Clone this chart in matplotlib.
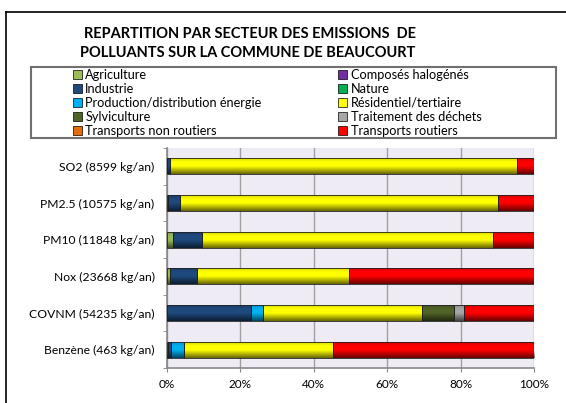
import numpy as np
import matplotlib.pyplot as plt
from matplotlib.lines import Line2D
from matplotlib.patches import Patch, Rectangle

plt.rcParams['font.family'] = ['Lato', 'DejaVu Sans']

# categories, top to bottom
categories = ['SO2 (8599 kg/an)', 'PM2.5 (10575 kg/an)', 'PM10 (11848 kg/an)',
              'Nox (23668 kg/an)', 'COVNM (54235 kg/an)', 'Benzène (463 kg/an)']

sectors = ['Agriculture', 'Composés halogénés', 'Industrie', 'Nature',
           'Production/distribution énergie', 'Résidentiel/tertiaire',
           'Sylviculture', 'Traitement des déchets', 'Transports non routiers',
           'Transports routiers']

# share of emissions (%) per sector, in category order
agriculture = [0.0, 0.3, 1.6, 0.8, 0.0, 0.3]
halogenes = [0.0, 0.0, 0.0, 0.0, 0.0, 0.0]
industrie = [0.9, 3.2, 7.9, 7.3, 23.0, 0.7]
nature = [0.0, 0.0, 0.0, 0.0, 0.0, 0.0]
production = [0.0, 0.0, 0.0, 0.0, 3.1, 3.6]
residentiel = [94.6, 86.8, 79.4, 41.6, 43.5, 40.6]
sylviculture = [0.0, 0.0, 0.0, 0.0, 8.5, 0.0]
traitement = [0.0, 0.0, 0.0, 0.0, 2.9, 0.0]
transports_nr = [0.0, 0.0, 0.0, 0.0, 0.0, 0.0]
transports_r = [4.5, 9.7, 11.1, 50.3, 19.0, 54.8]

series = [agriculture, halogenes, industrie, nature, production, residentiel,
          sylviculture, traitement, transports_nr, transports_r]
colors = ['#9BBB59', '#7030A0', '#1F497D', '#00B050', '#00B0F0', '#FFFF00',
          '#4F6228', '#A6A6A6', '#E46C0A', '#FF0000']

W, H = 566, 403
fig = plt.figure(figsize=(W / 100, H / 100), dpi=100)

# outer chart frame (cropped on right and bottom)
fig.add_artist(Line2D([6 / W, 6 / W], [0, 1 - 12 / H], color='black', lw=1.2))
fig.add_artist(Line2D([6 / W, 1], [1 - 12 / H, 1 - 12 / H], color='black', lw=1.2))

fig.text(250 / W, 1 - 34 / H, 'REPARTITION PAR SECTEUR DES EMISSIONS  DE',
         ha='center', va='center', fontsize=10.5, fontweight='bold')
fig.text(248 / W, 1 - 53 / H, 'POLLUANTS SUR LA COMMUNE DE BEAUCOURT',
         ha='center', va='center', fontsize=10.5, fontweight='bold')

ax = fig.add_axes([167 / W, 1 - 368 / H, (534 - 167) / W, (368 - 148) / H])
ax.set_facecolor('#EFEBF5')

# shading profile to give the bars their bevelled look
shade = np.zeros((40, 1, 4))
t = np.linspace(0, 1, 40)
shade[:, 0, 3] = np.clip(0.15 - 0.6 * t, 0, None) + np.clip((t - 0.5) * 1.2, 0, None)

y = np.arange(len(categories))
bh = 0.43
left = np.zeros(len(categories))
for vals, col in zip(series, colors):
    vals = np.array(vals)
    bars = ax.barh(y, vals, left=left, height=bh, color=col, edgecolor='none',
                   zorder=3)
    for b in bars:
        if b.get_width() <= 0:
            continue
        x0, y0 = b.get_x(), b.get_y()
        im = ax.imshow(shade, extent=(x0, x0 + b.get_width(), y0 + bh, y0),
                       aspect='auto', zorder=4, interpolation='bilinear')
        im.set_clip_path(b)
        ax.add_patch(Rectangle((x0, y0), b.get_width(), bh, fill=False,
                               edgecolor='#202020', linewidth=0.6, zorder=5))
    left += vals

ax.set_xlim(0, 100)
ax.set_ylim(len(categories) - 0.5, -0.5)
ax.set_xticks(np.arange(0, 101, 20))
ax.set_xticklabels([f'{v}%' for v in range(0, 101, 20)], fontsize=8.5)
ax.set_yticks(y)
ax.set_yticklabels(categories, fontsize=8.7)
ax.set_yticks(np.arange(-0.5, len(categories), 1), minor=True)
ax.tick_params(axis='y', which='major', length=0, pad=9)
ax.tick_params(axis='y', which='minor', length=3, color='#888888')
ax.tick_params(axis='x', length=3, color='#888888', pad=5)
ax.grid(axis='x', color='#A0A0A0', lw=1, zorder=1)
for s in ['top', 'right']:
    ax.spines[s].set_visible(False)
for s in ['left', 'bottom']:
    ax.spines[s].set_color('#888888')
    ax.spines[s].set_linewidth(1.2)

# legend box
fig.add_artist(Rectangle((31 / W, 1 - 138 / H), (556 - 31) / W, (138 - 67) / H,
                         transform=fig.transFigure, fill=False,
                         edgecolor='#707070', linewidth=1.5))
handles = [Patch(facecolor=c, edgecolor='black', linewidth=0.5) for c in colors]
order = [0, 2, 4, 6, 8, 1, 3, 5, 7, 9]
leg = fig.legend([handles[i] for i in order], [sectors[i] for i in order],
                 ncol=2, loc='upper left',
                 bbox_to_anchor=(70 / W, 1 - 66 / H),
                 fontsize=9.2, frameon=False, handlelength=0.7,
                 handleheight=0.7, handletextpad=0.3, labelspacing=0.16,
                 borderpad=0.2, borderaxespad=0, columnspacing=6.0)

fig.savefig('out.png', dpi=100)
